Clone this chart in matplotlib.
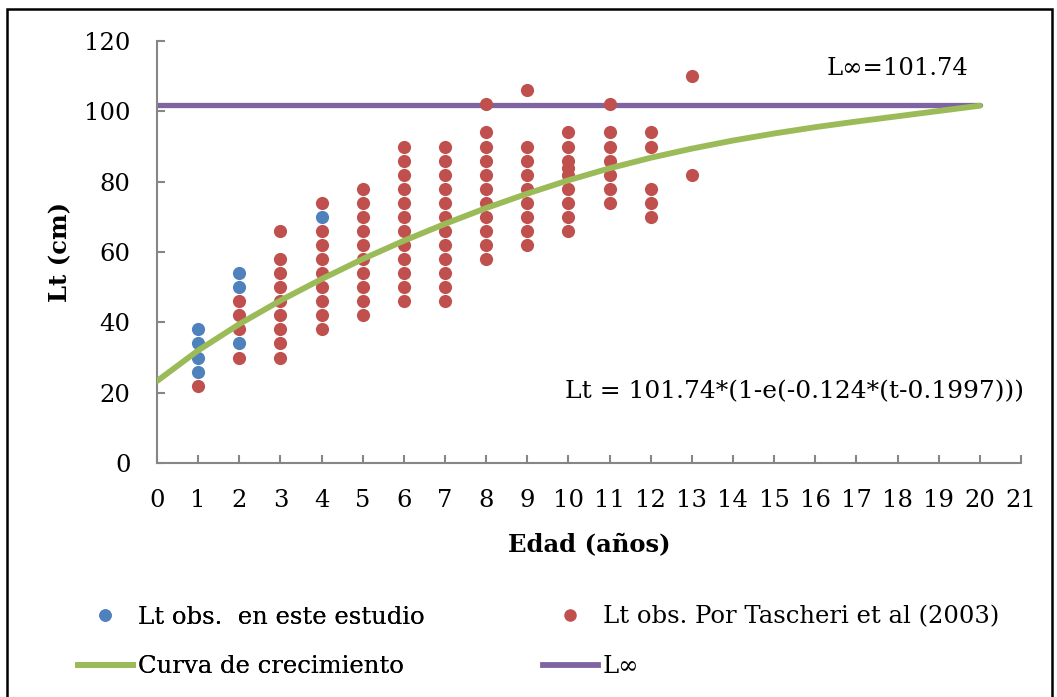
import matplotlib
matplotlib.use("Agg")
import matplotlib.pyplot as plt
from matplotlib.lines import Line2D
from matplotlib.patches import Rectangle

plt.rcParams['font.family'] = ['DejaVu Serif']

# observed lengths, this study
blue_age = [1, 1, 1, 1, 2, 2, 2, 4]
blue_lt = [26, 30, 34, 38, 34, 50, 54, 70]

# observed lengths, Tascheri et al (2003)
red_pts = {
    1: [22],
    2: [30, 38, 42, 46],
    3: [30, 34, 38, 42, 46, 50, 54, 58, 66],
    4: [38, 42, 46, 50, 54, 58, 62, 66, 74],
    5: [42, 46, 50, 54, 58, 62, 66, 70, 74, 78],
    6: [46, 50, 54, 58, 62, 66, 70, 74, 78, 82, 86, 90],
    7: [46, 50, 54, 58, 62, 66, 70, 74, 78, 82, 86, 90],
    8: [58, 62, 66, 70, 74, 78, 82, 86, 90, 94, 102],
    9: [62, 66, 70, 74, 78, 82, 86, 90, 106],
    10: [66, 70, 74, 78, 82, 84, 86, 90, 94],
    11: [74, 78, 82, 86, 90, 94, 102],
    12: [70, 74, 78, 90, 94],
    13: [82, 110],
}
red_age = [a for a, v in red_pts.items() for _ in v]
red_lt = [x for v in red_pts.values() for x in v]

# growth curve
curve_age = list(range(0, 21))
curve_lt = [23.3, 32.0, 39.5, 46.2, 52.3, 58.0, 63.2, 68.0, 72.5, 76.6, 80.4,
            83.8, 86.8, 89.4, 91.7, 93.7, 95.5, 97.1, 98.6, 100.1, 101.6]

linf = 101.74
linf_age = [0, 20]

blue = '#4F81BD'
red = '#C0504D'
green = '#9BBB59'
purple = '#8064A2'
grey = '#868686'
fs = 17.5

fig = plt.figure(figsize=(10.57, 6.97), dpi=100)
ax = fig.add_axes([157 / 1057, 1 - 463 / 697, (1021 - 157) / 1057, (463 - 41) / 697])

ax.scatter(blue_age, blue_lt, s=90, color=blue, zorder=3, linewidths=0)
ax.scatter(red_age, red_lt, s=90, color=red, zorder=4, linewidths=0)
ax.plot(curve_age, curve_lt, color=green, lw=4.2, zorder=5, solid_capstyle='round')
ax.plot(linf_age, [linf, linf], color=purple, lw=3.8, zorder=2, solid_capstyle='round')

ax.set_xlim(0, 21)
ax.set_ylim(0, 120)
ax.set_xticks(range(0, 22))
ax.set_yticks(range(0, 121, 20))
for s in ['top', 'right']:
    ax.spines[s].set_visible(False)
for s in ['left', 'bottom']:
    ax.spines[s].set_color(grey)
    ax.spines[s].set_linewidth(1.5)
ax.tick_params(direction='in', length=6, width=1.5, color=grey, labelsize=fs)
ax.tick_params(axis='x', pad=18.5)
ax.tick_params(axis='y', pad=19)

ax.set_xlabel('Edad (años)', fontsize=fs, fontweight='bold', labelpad=15)
ax.set_ylabel('Lt (cm)', fontsize=fs, fontweight='bold')
ax.yaxis.set_label_coords(-(157 - 72) / 864, 0.5)

ax.text(18.0, 112.3, 'L∞=101.74', fontsize=fs, ha='center', va='center')
ax.text(9.92, 20.2, 'Lt = 101.74*(1-e(-0.124*(t-0.1997)))', fontsize=18, ha='left', va='center')

# legend: one block per column
kw = dict(loc='center left', frameon=False, fontsize=fs, handlelength=2.26,
          handletextpad=0.2, labelspacing=1.1, borderaxespad=0, borderpad=0)
h1 = [Line2D([], [], ls='', marker='o', ms=8, color=blue),
      Line2D([], [], color=green, lw=4.2)]
leg1 = fig.legend(h1, ['Lt obs.  en este estudio', 'Curva de crecimiento'],
                  bbox_to_anchor=(78 / 1057, 1 - 642 / 697), **kw)
h2 = [Line2D([], [], ls='', marker='o', ms=8, color=red),
      Line2D([], [], color=purple, lw=4.2)]
leg2 = fig.legend(h2, ['Lt obs. Por Tascheri et al (2003)', 'L∞'],
                  bbox_to_anchor=(543 / 1057, 1 - 642 / 697), **kw)
fig.add_artist(leg1)

# outer frame
fig.patches.append(Rectangle((7 / 1057, -0.01), (1052 - 7) / 1057, 1.01 - 9 / 697,
                             transform=fig.transFigure, fill=False, ec='black', lw=1.8))

fig.savefig('out.png', dpi=100)
